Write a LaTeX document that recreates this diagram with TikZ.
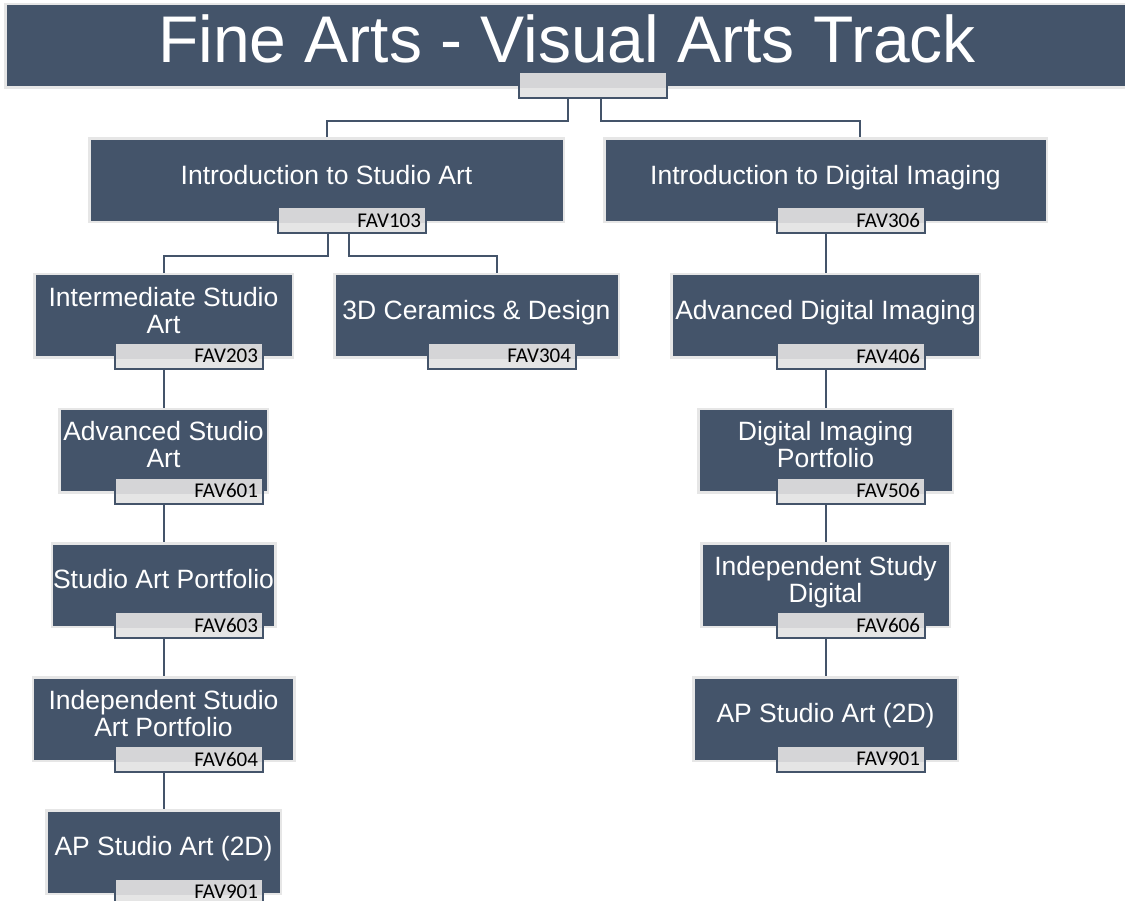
\documentclass[tikz,border=0pt]{standalone}
\usepackage{fontspec}
\setmainfont{Liberation Sans}
\newfontfamily\codefont{Carlito}
\definecolor{slate}{HTML}{44546A}
\definecolor{boxrim}{HTML}{E6E6E6}
\definecolor{codetop}{HTML}{D5D5D7}
\definecolor{codelow}{HTML}{E5E5E5}
\begin{document}
\begin{tikzpicture}[x=1pt, y=-1pt,
    course/.style={draw=boxrim, line width=2.5pt, fill=slate, text=white, align=center,
        inner sep=0pt, minimum height=83.5pt, font=\fontsize{26.5}{27}\selectfont,
        execute at end node={\rule[-12pt]{0pt}{12pt}}},
    banner/.style={course, font=\fontsize{66}{66}\selectfont,
        execute at end node={\rule[-15pt]{0pt}{15pt}}},
    coursecode/.style={draw=slate, line width=2pt, fill=codetop, minimum width=148pt,
        minimum height=26pt, text width=138pt, align=right, inner xsep=5pt, inner ysep=0pt,
        font=\codefont\fontsize{21}{21}\selectfont,
        path picture={\fill[codelow] (path picture bounding box.south west) rectangle ([yshift=10pt]path picture bounding box.south east);}},
    link/.style={draw=slate, line width=2pt}]

    \useasboundingbox (0,0) rectangle (1125,901);

    % Title
    \node[banner, minimum width=1123.5pt] (title) at (567,46) {Fine Arts - Visual Arts Track};
    \node[coursecode] (titlecode) at ([xshift=25.5pt,yshift=3.5pt]title.south) {};

    % first level
    \node[course, minimum width=474.5pt] (studio) at (326.5,180.5) {Introduction to Studio Art};
    \node[coursecode] (studiocode) at ([xshift=25.5pt,yshift=3pt]studio.south) {FAV103};
    \node[course, minimum width=442.5pt] (digital) at (825.5,180.5) {Introduction to Digital Imaging};
    \node[coursecode] (digitalcode) at ([xshift=25.5pt,yshift=3pt]digital.south) {FAV306};

    % studio art column
    \node[course, minimum width=258.5pt] (inter) at (163.5,316) {Intermediate Studio\\Art};
    \node[coursecode] (intercode) at ([xshift=25.5pt,yshift=3pt]inter.south) {FAV203};
    \node[course, minimum width=284.5pt] (ceramics) at (476.5,316) {3D Ceramics \& Design};
    \node[coursecode] (ceramicscode) at ([xshift=25.5pt,yshift=3pt]ceramics.south) {FAV304};
    \node[course, minimum width=208.5pt] (advstudio) at (163.5,450.5) {Advanced Studio\\Art};
    \node[coursecode] (advstudiocode) at ([xshift=25.5pt,yshift=3pt]advstudio.south) {FAV601};
    \node[course, minimum width=223.5pt] (portfolio) at (163.5,585) {Studio Art Portfolio};
    \node[coursecode] (portfoliocode) at ([xshift=25.5pt,yshift=3pt]portfolio.south) {FAV603};
    \node[course, minimum width=261.5pt] (indstudio) at (163.5,719) {Independent Studio\\Art Portfolio};
    \node[coursecode] (indstudiocode) at ([xshift=25.5pt,yshift=3pt]indstudio.south) {FAV604};
    \node[course, minimum width=234.5pt] (apleft) at (163.5,852) {AP Studio Art (2D)};
    \node[coursecode] (apleftcode) at ([xshift=25.5pt,yshift=3pt]apleft.south) {FAV901};

    % digital column
    \node[course, minimum width=308.5pt] (advdig) at (825.5,316) {Advanced Digital Imaging};
    \node[coursecode] (advdigcode) at ([xshift=25.5pt,yshift=3pt]advdig.south) {FAV406};
    \node[course, minimum width=254.5pt] (digport) at (825.5,450.5) {Digital Imaging\\Portfolio};
    \node[coursecode] (digportcode) at ([xshift=25.5pt,yshift=3pt]digport.south) {FAV506};
    \node[course, minimum width=248.5pt] (inddig) at (825.5,585) {Independent Study\\Digital};
    \node[coursecode] (inddigcode) at ([xshift=25.5pt,yshift=3pt]inddig.south) {FAV606};
    \node[course, minimum width=264.5pt] (apright) at (825.5,719) {AP Studio Art (2D)};
    \node[coursecode] (aprightcode) at ([xshift=25.5pt,yshift=3pt]apright.south) {FAV901};

    % connectors
    \draw[link] ([xshift=1pt]title.center |- titlecode.south) -- ++(0,22) -| (studio.north);
    \draw[link] ([xshift=34pt]title.center |- titlecode.south) -- ++(0,22) -| ([xshift=34.5pt]digital.north);
    \draw[link] ([xshift=1.5pt]studio.center |- studiocode.south) -- ++(0,22) -| (inter.north);
    \draw[link] ([xshift=22.5pt]studio.center |- studiocode.south) -- ++(0,22) -| ([xshift=20.5pt]ceramics.north);
    \draw[link] (inter.center |- intercode.south) -- (advstudio.north);
    \draw[link] (advstudio.center |- advstudiocode.south) -- (portfolio.north);
    \draw[link] (portfolio.center |- portfoliocode.south) -- (indstudio.north);
    \draw[link] (indstudio.center |- indstudiocode.south) -- (apleft.north);
    \draw[link] (digital.center |- digitalcode.south) -- (advdig.north);
    \draw[link] (advdig.center |- advdigcode.south) -- (digport.north);
    \draw[link] (digport.center |- digportcode.south) -- (inddig.north);
    \draw[link] (inddig.center |- inddigcode.south) -- (apright.north);

\end{tikzpicture}
\end{document}
